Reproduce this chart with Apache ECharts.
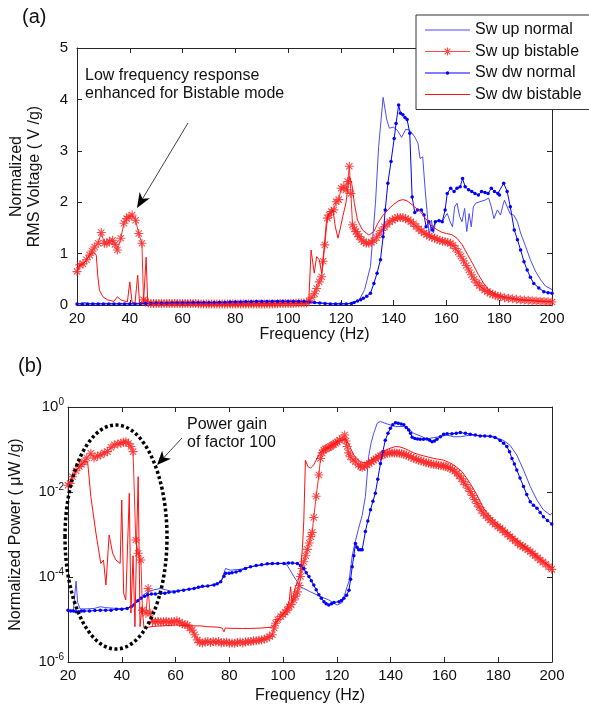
<!DOCTYPE html>
<html>
<head>
<meta charset="utf-8">
<script src="https://cdn.jsdelivr.net/npm/echarts@6/dist/echarts.min.js"></script>
<style>
html,body{margin:0;padding:0;background:#fff;}
#chart{width:589px;height:714px;}
</style>
</head>
<body>
<div id="chart"></div>
<script>
// ---------- DATA (frequency Hz, value) ----------
const seriesNames = ['Sw up normal', 'Sw up bistable', 'Sw dw normal', 'Sw dw bistable'];
const xTicks = [20, 40, 60, 80, 100, 120, 140, 160, 180, 200];

// (a) Normalized RMS voltage (V/g)
const upNormalVolt = [[20,0.03],[22,0.03],[23,0.05],[24,0.03],[26,0.03],[30,0.03],[35,0.03],[40,0.03],[45,0.035],[50,0.04],[55,0.045],[60,0.045],[65,0.05],[70,0.05],[75,0.05],[80,0.07],[85,0.07],[90,0.075],[95,0.08],[100,0.08],[103,0.075],[105,0.06],[107,0.05],[110,0.04],[113,0.035],[116,0.03],[120,0.03],[123,0.03],[125,0.05],[127,0.1],[129,0.3],[131.2,0.75],[133.1,1.98],[134.3,3.08],[136,4.04],[137.4,3.6],[138.4,3.44],[139.9,3.46],[141.4,3.4],[143,3.26],[144.6,3.42],[146.1,3.4],[148,3.27],[149.2,3.15],[150,2.85],[151,2.88],[152,2.2],[153.5,1.33],[154.3,1.65],[155.1,1.4],[155.9,1.62],[157.2,1.66],[158.4,1.62],[159.5,1.72],[160.3,1.78],[161.4,1.62],[162.3,1.52],[163.1,1.91],[164,1.98],[165,1.72],[165.9,1.62],[166.9,1.88],[167.7,1.43],[168.6,1.78],[169.4,1.52],[170.2,1.91],[171.1,1.98],[172.7,2.01],[174.6,2.04],[176,2.08],[177,1.91],[178,1.68],[179.3,1.85],[180.5,1.75],[181.4,1.94],[182,2.04],[183,1.91],[184.2,1.77],[185.5,1.75],[186.9,1.62],[188.1,1.4],[190,1.14],[191.8,0.88],[193.7,0.66],[195.7,0.49],[197.5,0.37],[200,0.3]];

const upBistableVolt = [[20,0.65],[21.1,0.78],[22.3,0.8],[23.6,0.88],[24.8,0.97],[25.7,1.05],[26.7,1.13],[28,1.2],[29.2,1.41],[30.4,1.2],[31.3,1.2],[32.3,1.24],[33.5,1.26],[34.4,1.18],[35.3,1.07],[36.6,1.3],[37.8,1.59],[38.8,1.68],[39.7,1.72],[40.9,1.75],[42.2,1.65],[43.4,1.39],[44.6,1.2],[45.2,0.1],[46,0.06],[47,0.04],[48,0.03],[49,0.03],[50,0.03],[51,0.03],[52,0.03],[53,0.03],[54,0.03],[55,0.03],[56,0.03],[57,0.03],[58,0.03],[59,0.03],[60,0.03],[61,0.03],[62,0.03],[63,0.03],[64,0.03],[65,0.03],[66,0.025],[67,0.02],[68,0.02],[69,0.02],[70,0.02],[71,0.02],[72,0.02],[73,0.02],[74,0.02],[75,0.02],[76,0.02],[77,0.02],[78,0.02],[79,0.02],[80,0.02],[81,0.02],[82,0.02],[83,0.02],[84,0.02],[85,0.02],[86,0.02],[87,0.02],[88,0.02],[89,0.02],[90,0.02],[91,0.02],[92,0.02],[93,0.02],[94,0.02],[95,0.02],[96,0.025],[97,0.03],[98,0.03],[99,0.03],[100,0.03],[101,0.03],[102,0.03],[103,0.035],[104,0.04],[105,0.04],[106,0.04],[107,0.04],[108,0.08],[109,0.15],[110,0.22],[110.8,0.32],[111.8,0.45],[112.7,0.55],[113.3,0.85],[113.9,1.17],[114.9,1.69],[115.6,1.75],[116.4,1.82],[117.3,1.85],[118.2,2.01],[119.2,2.05],[120.1,2.27],[121.1,2.3],[121.9,2.24],[122.6,2.4],[123.2,2.7],[123.8,2.17],[124.4,1.56],[125.1,1.48],[125.7,1.43],[126.3,1.38],[126.9,1.33],[127.8,1.27],[128.7,1.23],[129.6,1.2],[130.6,1.2],[131.5,1.22],[132.5,1.25],[133.5,1.31],[134.5,1.38],[135.5,1.45],[136.5,1.52],[137.5,1.57],[138.5,1.62],[139.5,1.65],[140.5,1.68],[141.5,1.7],[142.5,1.7],[143.5,1.7],[144.5,1.68],[145.5,1.66],[146.5,1.62],[147.5,1.58],[148.5,1.53],[149.5,1.48],[150.5,1.44],[151.5,1.4],[152.5,1.37],[153.5,1.34],[154.5,1.32],[155.5,1.3],[156.5,1.28],[157.5,1.26],[158.5,1.24],[159.5,1.23],[160.5,1.22],[161.5,1.2],[162.5,1.16],[163.5,1.1],[164.5,1.03],[165.5,0.95],[166.5,0.86],[167.5,0.77],[168.5,0.68],[169.5,0.59],[170.5,0.5],[171.5,0.43],[172.5,0.38],[173.5,0.33],[174.5,0.29],[175.5,0.26],[176.5,0.23],[177.5,0.21],[178.5,0.19],[179.5,0.17],[180.5,0.16],[182,0.14],[183.5,0.13],[185,0.12],[186.5,0.11],[188,0.1],[189.5,0.095],[191,0.09],[192.5,0.085],[194,0.08],[195.5,0.075],[197,0.07],[198.5,0.065],[200,0.06]];

const dwNormalVolt = [[20,0.02],[22,0.02],[24,0.02],[26,0.02],[28,0.02],[30,0.02],[32,0.02],[34,0.02],[36,0.02],[38,0.02],[40,0.02],[42,0.02],[44,0.025],[46,0.03],[48,0.03],[50,0.035],[52,0.035],[54,0.035],[56,0.04],[58,0.04],[60,0.04],[62,0.04],[64,0.045],[66,0.045],[68,0.045],[70,0.045],[72,0.045],[74,0.05],[76,0.05],[78,0.06],[80,0.06],[82,0.06],[84,0.065],[86,0.065],[88,0.07],[90,0.07],[92,0.07],[94,0.07],[96,0.07],[98,0.07],[100,0.07],[102,0.07],[104,0.07],[106,0.07],[108,0.06],[110,0.05],[112,0.04],[114,0.03],[116,0.02],[118,0.02],[120,0.02],[122,0.02],[124,0.03],[125,0.05],[126.3,0.08],[127.5,0.1],[128.5,0.13],[129.8,0.17],[131.2,0.23],[132.5,0.42],[133.7,0.62],[135,0.88],[136,1.33],[136.8,1.85],[137.8,2.37],[139,2.79],[140.2,3.24],[140.9,3.53],[141.9,3.89],[142.6,3.73],[143.5,3.7],[144.3,3.65],[145.1,3.61],[146.1,3.34],[147,2.1],[148,1.8],[149,1.85],[150.5,1.85],[151.5,1.75],[152.3,1.52],[153.3,1.62],[154.7,1.46],[155.8,1.62],[157.2,1.64],[158.4,1.62],[159.5,1.85],[160.3,2.17],[161.6,2.27],[162.9,2.21],[164,2.27],[165.2,2.3],[166.1,2.46],[167.1,2.3],[168.4,2.24],[169.6,2.21],[170.8,2.17],[172.1,2.14],[173.3,2.21],[174.6,2.19],[175.8,2.17],[177,2.27],[178.2,2.21],[179.5,2.17],[180.1,2.14],[181.7,2.37],[183,2.21],[184.2,1.91],[185.7,1.46],[186.9,1.27],[188.1,1.07],[189.4,0.84],[190.6,0.68],[191.8,0.54],[193.1,0.42],[195,0.33],[196.9,0.26],[198.5,0.24],[200,0.23]];

const dwBistableVolt = [[20,0.65],[21.1,0.78],[22.3,0.8],[23.6,0.88],[24.8,0.97],[25.7,1.0],[26.5,1.02],[27.3,0.97],[27.9,0.55],[28.5,0.29],[29.8,0.16],[31.6,0.1],[34,0.07],[35.3,0.16],[36.6,0.1],[39.1,0.06],[40,0.45],[40.9,0.05],[42,0.05],[43,0.58],[43.7,0.04],[45.2,0.05],[46.2,0.93],[46.8,0.04],[48,0.02],[55,0.02],[62,0.02],[70,0.02],[80,0.02],[90,0.025],[100,0.03],[105,0.03],[107.8,0.04],[108.7,1.07],[109.9,0.62],[110.8,0.94],[111.8,0.88],[112.7,0.62],[113.7,1.13],[114.5,1.62],[115.4,1.78],[117,1.85],[117.9,1.52],[118.9,1.3],[119.9,1.52],[120.7,1.72],[121.9,1.98],[123.2,2.5],[124.1,2.37],[125.1,1.98],[126.3,1.65],[128.2,1.46],[130.6,1.36],[132.5,1.43],[134,1.59],[136,1.75],[138,1.86],[140,1.96],[142,2.03],[143.5,2.05],[145,2.03],[147,1.95],[150,1.82],[152,1.69],[154,1.56],[156,1.48],[158,1.42],[160,1.39],[162,1.37],[164,1.3],[166,1.17],[168,0.98],[170,0.8],[172,0.6],[174,0.43],[176,0.3],[178,0.23],[180,0.18],[184,0.14],[188,0.1],[192,0.09],[196,0.07],[200,0.07]];

// (b) Normalized power, stored as log10(uW/g)
const upNormalPowLog = [[20,-4.78],[22,-4.78],[23,-4.1],[23.6,-4.6],[24.5,-4.75],[27,-4.75],[29.8,-4.74],[32,-4.7],[34,-4.72],[38,-4.74],[42,-4.74],[44,-4.66],[45.9,-4.54],[47.5,-4.45],[49.6,-4.35],[52,-4.3],[54.5,-4.27],[56.3,-4.3],[58,-4.33],[60,-4.33],[63,-4.3],[67,-4.27],[72,-4.21],[76.8,-4.13],[78.6,-3.8],[80.4,-3.84],[84,-3.82],[88,-3.76],[94,-3.7],[100,-3.68],[101.5,-3.72],[104,-3.99],[106.5,-4.23],[110.2,-4.35],[113.9,-4.46],[117,-4.54],[120.1,-4.66],[122,-4.6],[123.8,-4.23],[124.5,-4.1],[125.7,-3.5],[126.9,-3.15],[128.1,-2.85],[129.4,-2.55],[130.6,-2.11],[131.8,-1.17],[132.7,-0.85],[133.7,-0.62],[135,-0.38],[136.2,-0.34],[138.7,-0.4],[141.8,-0.46],[144.9,-0.46],[146.5,-0.5],[148.6,-0.62],[151,-0.68],[153.5,-0.75],[156,-0.72],[158.5,-0.7],[160.9,-0.66],[163.4,-0.7],[165.9,-0.7],[169.6,-0.66],[173.3,-0.68],[178.2,-0.69],[182,-0.79],[184.4,-0.9],[186.9,-1.13],[189.4,-1.48],[191.9,-1.87],[194.4,-2.19],[196.8,-2.42],[199.3,-2.54],[200,-2.5]];

const upBistablePowLog = [[20,-1.84],[20.8,-1.8],[21.7,-1.64],[23,-1.5],[24.2,-1.4],[25,-1.35],[26,-1.29],[27,-1.2],[28.5,-1.09],[29.7,-1.2],[31,-1.15],[32.2,-1.13],[33.5,-1.08],[34.7,-1.05],[36,-0.95],[37.2,-0.89],[38.5,-0.87],[39.7,-0.85],[40.6,-0.83],[41.5,-0.82],[42.5,-0.86],[43.4,-0.93],[44.2,-1.05],[45.2,-3.13],[46.1,-3.44],[47.1,-3.6],[47.7,-4.78],[49,-4.85],[49.8,-4.27],[50.5,-4.85],[51.4,-5.05],[52.5,-5.05],[53.5,-5.04],[54.5,-5.06],[55.5,-5.05],[56.5,-5.04],[57.5,-5.06],[58.5,-5.05],[59.5,-5.05],[60.5,-5.03],[61.5,-5.06],[62.5,-5.1],[63.5,-5.12],[64.4,-5.13],[65.3,-5.2],[66.2,-5.25],[67.1,-5.36],[68.1,-5.48],[69,-5.54],[70,-5.55],[71,-5.53],[72,-5.52],[73,-5.54],[74,-5.52],[75,-5.53],[76,-5.52],[77,-5.55],[78,-5.54],[79,-5.53],[80,-5.56],[81,-5.55],[82,-5.56],[83,-5.54],[84,-5.53],[85,-5.55],[86,-5.53],[87,-5.52],[88,-5.52],[89,-5.5],[90,-5.5],[91,-5.49],[92,-5.48],[93,-5.46],[94,-5.44],[95,-5.4],[96,-5.36],[96.7,-5.2],[97.2,-5.09],[98,-5.0],[99.1,-4.93],[100,-4.88],[100.8,-4.83],[101.6,-4.78],[102.3,-4.7],[103,-4.65],[104,-4.54],[104.7,-4.45],[105.3,-4.35],[106,-4.2],[106.5,-3.99],[107.1,-3.8],[107.7,-3.64],[108.4,-3.5],[109,-3.35],[109.7,-3.2],[110.3,-3.05],[110.8,-2.95],[111.4,-2.6],[112.3,-2.1],[113.3,-1.6],[113.9,-1.21],[114.5,-1.08],[115.1,-1.01],[115.7,-0.99],[116.3,-0.97],[117,-0.95],[117.6,-0.93],[118.2,-0.9],[118.8,-0.88],[119.5,-0.85],[120.1,-0.82],[121,-0.78],[121.9,-0.74],[122.9,-0.66],[123.4,-0.8],[123.8,-0.93],[124.4,-1.08],[125,-1.17],[126,-1.24],[126.9,-1.29],[128,-1.36],[128.8,-1.4],[129.4,-1.42],[130.3,-1.4],[131.2,-1.36],[132,-1.33],[132.9,-1.29],[133.7,-1.25],[134.5,-1.22],[135.4,-1.18],[136.2,-1.15],[137,-1.13],[137.8,-1.11],[138.7,-1.09],[139.6,-1.08],[140.5,-1.08],[141.4,-1.08],[142.3,-1.08],[143.2,-1.09],[144.1,-1.1],[144.9,-1.11],[145.8,-1.13],[146.7,-1.15],[147.6,-1.18],[148.6,-1.21],[149.5,-1.23],[150.4,-1.25],[151.3,-1.27],[152.3,-1.29],[153.2,-1.31],[154.1,-1.32],[155,-1.34],[156,-1.35],[156.9,-1.36],[157.8,-1.37],[158.7,-1.38],[159.7,-1.39],[160.5,-1.4],[161.3,-1.42],[162.2,-1.44],[163,-1.47],[163.8,-1.51],[164.6,-1.56],[165.5,-1.62],[166.3,-1.69],[167.1,-1.76],[167.9,-1.83],[168.8,-1.91],[169.6,-1.99],[170.4,-2.08],[171.3,-2.18],[172.1,-2.27],[172.9,-2.35],[173.7,-2.43],[174.5,-2.5],[175.4,-2.56],[176.2,-2.61],[177,-2.66],[177.9,-2.71],[178.8,-2.76],[179.8,-2.81],[180.7,-2.85],[181.6,-2.9],[182.5,-2.95],[183.5,-3.0],[184.4,-3.05],[185.3,-3.1],[186.3,-3.15],[187.2,-3.2],[188.2,-3.25],[189.1,-3.28],[190,-3.32],[191,-3.36],[191.9,-3.4],[192.8,-3.45],[193.7,-3.5],[194.7,-3.55],[195.6,-3.6],[196.6,-3.65],[197.7,-3.7],[198.8,-3.76],[199.9,-3.82]];

const dwNormalPowLog = [[20,-4.78],[21,-4.8],[22,-4.8],[23,-4.82],[24,-4.82],[25,-4.8],[26,-4.8],[28,-4.8],[30,-4.79],[32,-4.78],[34,-4.78],[36,-4.78],[38,-4.76],[40,-4.76],[42,-4.74],[43.5,-4.7],[44.6,-4.66],[46,-4.56],[47.1,-4.5],[48.5,-4.45],[49.6,-4.42],[51,-4.4],[52.5,-4.4],[54.5,-4.38],[56,-4.38],[57.5,-4.36],[59.5,-4.35],[61,-4.33],[63,-4.31],[65,-4.29],[66.9,-4.27],[68.5,-4.24],[70,-4.22],[72,-4.21],[74.3,-4.19],[75.5,-4.16],[76.8,-4.11],[78,-3.98],[78.6,-3.91],[79.9,-3.91],[81,-3.9],[82.5,-3.88],[84,-3.85],[86,-3.8],[87.9,-3.76],[90,-3.73],[92,-3.71],[94.1,-3.69],[96,-3.68],[98,-3.68],[100.3,-3.68],[102,-3.67],[103.5,-3.67],[105.3,-3.68],[106.5,-3.73],[107.7,-3.8],[108.6,-3.9],[109.6,-3.99],[110.5,-4.09],[111.4,-4.19],[112.3,-4.3],[113.3,-4.42],[114.2,-4.5],[115.2,-4.58],[116,-4.63],[117,-4.66],[118,-4.63],[118.9,-4.6],[120.8,-4.58],[121.7,-4.55],[122.6,-4.5],[123.6,-4.43],[124.5,-4.31],[125.1,-4.05],[125.7,-3.76],[126.3,-3.5],[126.9,-3.21],[127.5,-3.3],[128.1,-3.36],[128.8,-3.36],[129.4,-3.36],[130.6,-2.93],[131.5,-2.68],[132.5,-2.42],[133.4,-2.22],[134.3,-2.03],[135.2,-1.7],[136.2,-1.33],[137.1,-1.05],[138,-0.78],[139,-0.62],[139.9,-0.5],[140.8,-0.42],[141.8,-0.37],[142.8,-0.38],[143.9,-0.4],[144.9,-0.42],[145.8,-0.48],[146.7,-0.54],[147.4,-0.62],[148,-0.71],[149,-0.74],[150,-0.75],[151,-0.76],[152.2,-0.76],[153.5,-0.75],[154.5,-0.78],[155.4,-0.82],[156.3,-0.8],[157.2,-0.76],[158.5,-0.7],[159.7,-0.64],[161,-0.63],[162.8,-0.63],[164.4,-0.62],[165.9,-0.6],[167.8,-0.62],[169.6,-0.64],[171.5,-0.66],[173.3,-0.68],[175,-0.68],[177,-0.69],[178.8,-0.72],[180.7,-0.79],[182,-0.85],[183.2,-0.93],[184.2,-1.05],[185.1,-1.21],[186,-1.34],[186.9,-1.48],[188.1,-1.67],[189.4,-1.87],[190.6,-2.06],[191.9,-2.23],[193.1,-2.31],[194.4,-2.38],[195.6,-2.48],[196.8,-2.58],[198.3,-2.67],[199.9,-2.75]];

const dwBistablePowLog = [[20,-1.84],[21.7,-1.64],[24.2,-1.4],[26,-1.29],[27.3,-1.29],[28.5,-2.11],[30.4,-2.97],[32.2,-3.68],[33.2,-3.6],[34.1,-4.19],[35.3,-3.01],[36.6,-3.44],[37.8,-3.6],[39.4,-3.68],[40,-2.19],[40.7,-4.38],[41.5,-4.54],[42.8,-2.03],[43.4,-4.85],[44.2,-3.5],[44.9,-5.17],[45.5,-3.2],[46.1,-1.64],[46.8,-5.17],[47.5,-4.7],[48.3,-5.21],[50,-5.18],[52,-5.16],[55,-5.15],[60,-5.13],[65,-5.15],[69.4,-5.15],[72,-5.17],[75.6,-5.18],[77.3,-5.2],[78,-5.29],[78.5,-5.2],[81.7,-5.21],[85,-5.21],[88,-5.21],[92,-5.2],[96,-5.18],[97.2,-5.09],[99,-4.93],[101,-4.8],[102.3,-4.55],[102.8,-4.23],[103.3,-4.6],[104.6,-4.23],[105.5,-4.1],[106.5,-3.84],[107.2,-3.3],[107.7,-2.66],[108.3,-1.25],[109.2,-1.4],[110.2,-1.44],[111.4,-1.36],[112.7,-1.2],[113.9,-1.05],[116.4,-0.97],[118.3,-0.9],[120.1,-0.82],[122,-0.78],[123.2,-0.74],[124.4,-0.88],[125.3,-1.0],[126.3,-1.13],[127.5,-1.22],[128.8,-1.29],[130,-1.31],[131.2,-1.3],[132.5,-1.26],[133.7,-1.21],[135,-1.15],[136.2,-1.08],[137.4,-1.04],[138.7,-1.0],[140.2,-0.96],[141.8,-0.93],[143.4,-0.94],[144.9,-0.97],[146.7,-1.02],[148.6,-1.08],[150.4,-1.12],[152.3,-1.15],[154.1,-1.18],[156,-1.21],[157.8,-1.23],[159.7,-1.25],[161.5,-1.3],[163.4,-1.36],[165,-1.44],[166.5,-1.52],[168,-1.65],[169.6,-1.8],[170.8,-1.93],[172.1,-2.07],[173.3,-2.22],[174.5,-2.38],[175.8,-2.48],[177,-2.58],[178.8,-2.7],[180.7,-2.8],[184.4,-3.0],[188.2,-3.2],[191.9,-3.38],[195.6,-3.57],[199.9,-3.78]];

// ---------- CHART ----------
const FONT = '"Liberation Sans", Arial, Helvetica, sans-serif';
const AXC = '#262626';
const STAR = 'path://M-0.6,-5L0.6,-5L0.6,5L-0.6,5Z M-5,-0.6L5,-0.6L5,0.6L-5,0.6Z M-3.08,-3.92L3.92,3.08L3.08,3.92L-3.92,-3.08Z M3.08,-3.92L3.92,-3.08L-3.08,3.92L-3.92,3.08Z';
const toPow = arr => arr.map(p => [p[0], Math.pow(10, p[1])]);

// legend icons drawn in a 45x14 box (tiny corner specks fix the box size)
const BOX = 'M0,0L0.02,0L0,0.02Z M45,14L44.98,14L45,13.98Z ';
const LINE = 'M0,6.5L45,6.5L45,7.5L0,7.5Z ';
const ICON_LINE = 'path://' + BOX + LINE;
const ICON_STAR = 'path://' + BOX + LINE +
  'M21.95,3L23.05,3L23.05,11L21.95,11Z M18.5,6.45L26.5,6.45L26.5,7.55L18.5,7.55Z ' +
  'M20,3.7L25.8,9.5L25,10.3L19.2,4.5Z M25,3.7L25.8,4.5L20,10.3L19.2,9.5Z';
const ICON_DOT = 'path://' + BOX + LINE + 'M20.7,7A1.8,1.8 0 1 1 24.3,7A1.8,1.8 0 1 1 20.7,7Z';

function xAx(grid, pos, withLabel, name, gap) {
  return {
    gridIndex: grid, type: 'value', min: 20, max: 200, interval: 20, position: pos,
    name: name || '', nameLocation: 'middle', nameGap: gap || 25,
    nameTextStyle: {fontFamily: FONT, fontSize: 16, color: '#111'},
    axisLine: {show: true, onZero: false, lineStyle: {color: AXC, width: 1}},
    axisTick: {show: true, inside: true, length: 5, lineStyle: {color: AXC}},
    axisLabel: {show: withLabel, fontFamily: FONT, fontSize: 15, color: '#111', margin: 6},
    splitLine: {show: false}
  };
}
function yLin(pos, withLabel, name) {
  return {
    gridIndex: 0, type: 'value', min: 0, max: 5, interval: 1, position: pos,
    name: name || '', nameLocation: 'middle', nameGap: 33, nameRotate: 90,
    nameTextStyle: {fontFamily: FONT, fontSize: 16, color: '#111', lineHeight: 18, align: 'center'},
    axisLine: {show: true, onZero: false, lineStyle: {color: AXC, width: 1}},
    axisTick: {show: true, inside: true, length: 5, lineStyle: {color: AXC}},
    axisLabel: {show: withLabel, fontFamily: FONT, fontSize: 15, color: '#111', margin: 9},
    splitLine: {show: false}
  };
}
function yLog(pos, withLabel, name) {
  return {
    gridIndex: 1, type: 'log', logBase: 100, min: 1e-6, max: 1, position: pos,
    name: name || '', nameLocation: 'middle', nameGap: 44, nameRotate: 90,
    nameTextStyle: {fontFamily: FONT, fontSize: 16, color: '#111'},
    axisLine: {show: true, onZero: false, lineStyle: {color: AXC, width: 1}},
    axisTick: {show: true, inside: true, length: 5, lineStyle: {color: AXC}},
    minorTick: {show: false},
    axisLabel: {
      show: withLabel, margin: 4,
      formatter: v => '{b|10}{s|' + Math.round(Math.log10(v)) + '}',
      rich: {
        b: {fontFamily: FONT, fontSize: 15, color: '#111'},
        s: {fontFamily: FONT, fontSize: 10, color: '#111', verticalAlign: 'top', padding: [0, 0, 9, 0]}
      }
    },
    splitLine: {show: false}
  };
}

function mk(name, data, xi, yi) {
  const base = {name, type: 'line', data, xAxisIndex: xi, yAxisIndex: yi, animation: false, silent: true, clip: true};
  if (name === 'Sw up normal') {
    return Object.assign(base, {symbol: 'none', color: '#4a4aff', lineStyle: {width: 1, color: '#4a4aff'}, z: 2});
  }
  if (name === 'Sw up bistable') {
    return Object.assign(base, {symbol: STAR, symbolSize: 9, showSymbol: true, showAllSymbol: true, color: '#ff2a2a',
      itemStyle: {color: '#ff2a2a', opacity: 0.85}, lineStyle: {width: 1, color: '#ff2a2a'}, z: 3});
  }
  if (name === 'Sw dw normal') {
    return Object.assign(base, {symbol: 'circle', symbolSize: 3.5, showSymbol: true, showAllSymbol: true, color: '#0000ff',
      itemStyle: {color: '#0000ff'}, lineStyle: {width: 1, color: '#0000ff'}, z: 4});
  }
  return Object.assign(base, {symbol: 'none', color: '#ff1010', lineStyle: {width: 1, color: '#ff1010'}, z: 5});
}

const chart = echarts.init(document.getElementById('chart'), null, {renderer: 'canvas'});

// arrow geometry helper (annotation arrows)
function arrow(x1, y1, x2, y2, head, half) {
  const dx = x2 - x1, dy = y2 - y1, L = Math.hypot(dx, dy), ux = dx / L, uy = dy / L, px = -uy, py = ux;
  const bx = x2 - head * ux, by = y2 - head * uy;
  const nx = x2 - head * 0.72 * ux, ny = y2 - head * 0.72 * uy;
  return [
    {type: 'line', shape: {x1, y1, x2: nx, y2: ny}, style: {stroke: '#444', lineWidth: 1}, z: 50, silent: true},
    {type: 'polygon', shape: {points: [[x2, y2], [bx + half * px, by + half * py], [nx, ny], [bx - half * px, by - half * py]]},
      style: {fill: '#000'}, z: 50, silent: true}
  ];
}

const option = {
  backgroundColor: '#fff',
  animation: false,
  grid: [
    {left: 67, top: 48, width: 485, height: 257},
    {left: 67, top: 407, width: 485, height: 255}
  ],
  xAxis: [
    xAx(0, 'bottom', true, 'Frequency (Hz)', 22), xAx(0, 'top', false),
    xAx(1, 'bottom', true, 'Frequency (Hz)', 26), xAx(1, 'top', false)
  ],
  yAxis: [
    yLin('left', true, 'Normalized\nRMS Voltage ( V /g)'), yLin('right', false),
    yLog('left', true, 'Normalized Power ( \u03bcW /g)'), yLog('right', false)
  ],
  legend: {
    data: [
      {name: 'Sw up normal', icon: ICON_LINE},
      {name: 'Sw up bistable', icon: ICON_STAR},
      {name: 'Sw dw normal', icon: ICON_DOT},
      {name: 'Sw dw bistable', icon: ICON_LINE}
    ],
    orient: 'vertical', left: 416, top: 15,
    padding: [7, 8, 7, 9], itemGap: 5.5, itemWidth: 45, itemHeight: 14,
    backgroundColor: '#fff', borderColor: '#333', borderWidth: 1, borderRadius: 0,
    textStyle: {fontFamily: FONT, fontSize: 16, color: '#111'},
    selectedMode: false, z: 20
  },
  series: [
    mk('Sw up normal', upNormalVolt, 0, 0),
    mk('Sw up bistable', upBistableVolt, 0, 0),
    mk('Sw dw normal', dwNormalVolt, 0, 0),
    mk('Sw dw bistable', dwBistableVolt, 0, 0),
    mk('Sw up normal', toPow(upNormalPowLog), 2, 2),
    mk('Sw up bistable', toPow(upBistablePowLog), 2, 2),
    mk('Sw dw normal', toPow(dwNormalPowLog), 2, 2),
    mk('Sw dw bistable', toPow(dwBistablePowLog), 2, 2)
  ],
  graphic: [
    {type: 'text', left: 22, top: 7, style: {text: '(a)', font: '20px ' + FONT, fill: '#111'}},
    {type: 'text', left: 18, top: 356, style: {text: '(b)', font: '20px ' + FONT, fill: '#111'}},
    {type: 'text', left: 85, top: 67, style: {text: 'Low frequency response\nenhanced for Bistable mode', font: '16px ' + FONT, lineHeight: 18, fill: '#111'}, z: 50},
    {type: 'text', left: 187, top: 416, style: {text: 'Power gain\nof factor 100', font: '16px ' + FONT, lineHeight: 18, fill: '#111'}, z: 50},
    {type: 'ellipse', shape: {cx: 116, cy: 537, rx: 51, ry: 112},
      style: {fill: 'none', stroke: '#000', lineWidth: 3.5, lineDash: [3, 2.5]}, z: 50, silent: true},
    ...arrow(188, 123, 137, 208, 15, 6),
    ...arrow(182, 438, 157, 465, 14, 6)
  ]
};
chart.setOption(option);
</script>
</body>
</html>
